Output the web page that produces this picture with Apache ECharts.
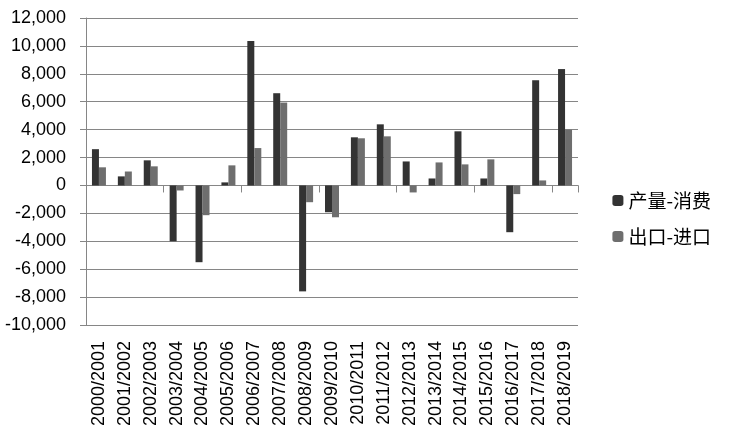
<!DOCTYPE html>
<html><head><meta charset="utf-8">
<script src="https://cdn.jsdelivr.net/npm/echarts@6/dist/echarts.min.js"></script>
<style>html,body{margin:0;padding:0;background:#fff}#c{width:729px;height:440px}</style>
</head><body><div id="c"></div>
<script>
var categories = ['2000/2001','2001/2002','2002/2003','2003/2004','2004/2005','2005/2006','2006/2007','2007/2008','2008/2009','2009/2010','2010/2011','2011/2012','2012/2013','2013/2014','2014/2015','2015/2016','2016/2017','2017/2018','2018/2019'];
var prodMinusCons = [2600,650,1800,-4000,-5500,220,10350,6610,-7590,-1920,3450,4380,1720,500,3880,500,-3350,7540,8340];
var exportMinusImport = [1300,1000,1370,-360,-2130,1440,2680,5940,-1200,-2280,3380,3520,-500,1650,1510,1870,-620,360,4000];
var seriesNames = ['产量-消费','出口-进口'];
var yTicks = {min:-10000, max:12000, interval:2000};

var chart = echarts.init(document.getElementById('c'));
var font = '"Liberation Sans", Arial, "Noto Sans CJK SC", sans-serif';
chart.setOption({
  animation:false,
  textStyle:{fontFamily:font},
  grid:{left:86,right:151,top:18,bottom:115,containLabel:false},
  legend:{
    orient:'vertical', right:13, top:186,
    itemWidth:11, itemHeight:11, itemGap:17,
    textStyle:{fontSize:19,color:'#000',fontFamily:'"Noto Sans CJK SC", sans-serif'},
    data:seriesNames
  },
  xAxis:[{
    type:'category', data:categories,
    axisLine:{onZero:true,lineStyle:{color:'#868686',width:1}},
    axisTick:{show:true,length:7,lineStyle:{color:'#868686'}},
    axisLabel:{show:false}
  },{
    type:'category', data:categories, position:'bottom',
    axisLine:{show:false}, axisTick:{show:false},
    axisLabel:{rotate:90,fontSize:18,color:'#000',margin:16,interval:0}
  }],
  yAxis:{
    type:'value', min:yTicks.min, max:yTicks.max, interval:yTicks.interval,
    axisLine:{show:true,lineStyle:{color:'#868686'}},
    axisTick:{show:true,length:6,lineStyle:{color:'#868686'}},
    splitLine:{lineStyle:{color:'#868686',width:1}},
    axisLabel:{fontSize:18,color:'#000',margin:20,formatter:function(v){return v.toLocaleString('en-US');}}
  },
  series:[{
    name:seriesNames[0], type:'bar', data:prodMinusCons, xAxisIndex:0,
    barGap:'0%', barCategoryGap:'46%', itemStyle:{color:'#333333'}
  },{
    name:seriesNames[1], type:'bar', data:exportMinusImport, xAxisIndex:0,
    barGap:'0%', barCategoryGap:'46%', itemStyle:{color:'#6e6e6e'}
  }]
});
</script></body></html>
